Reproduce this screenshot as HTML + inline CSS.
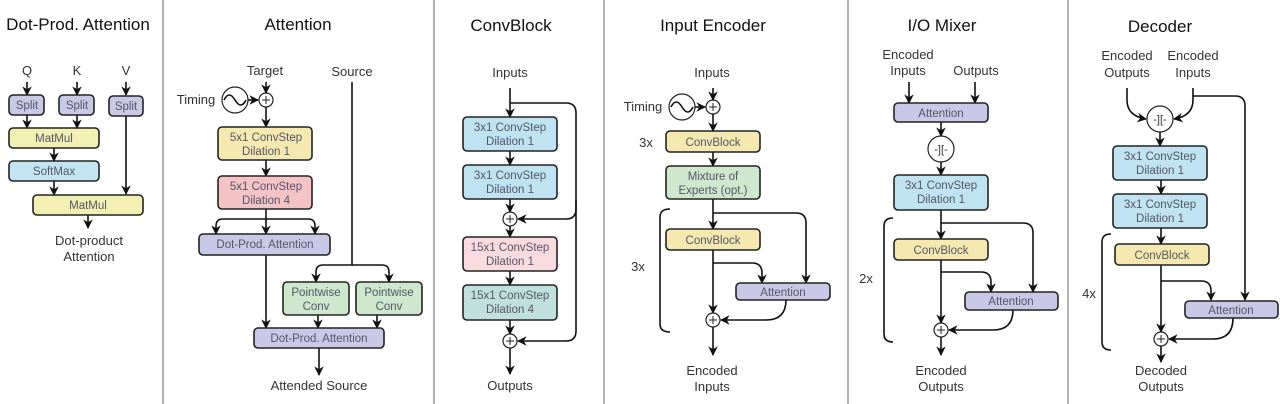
<!DOCTYPE html>
<html><head><meta charset="utf-8"><style>
html,body{margin:0;padding:0;background:#fff;}
svg{display:block;font-family:"Liberation Sans",sans-serif;}
.t{font-size:17px;fill:#111;text-anchor:middle;}
.l{font-size:13px;fill:#333;text-anchor:middle;}
.b{font-size:11.5px;fill:#556;text-anchor:middle;}
.bx{stroke:#222;stroke-width:1.6;}
.ln{stroke:#111;stroke-width:1.6;fill:none;}
.c{stroke:#222;stroke-width:1.2;fill:#fff;}
</style></head><body>
<svg width="1280" height="404" viewBox="0 0 1280 404">
<defs><marker id="a" viewBox="0 0 10 10" refX="9" refY="5" markerWidth="6" markerHeight="6" orient="auto"><path d="M0,0 L10,5 L0,10 L3,5z" fill="#111"/></marker></defs>
<rect width="1280" height="404" fill="#fff"/>
<g stroke="#999" stroke-width="1.5"><line x1="163" y1="0" x2="163" y2="404"/><line x1="434" y1="0" x2="434" y2="404"/><line x1="604" y1="0" x2="604" y2="404"/><line x1="848" y1="0" x2="848" y2="404"/><line x1="1068" y1="0" x2="1068" y2="404"/></g>

<!-- Panel 1 -->
<text class="t" x="78" y="30">Dot-Prod. Attention</text>
<text class="l" x="27" y="75">Q</text><text class="l" x="77" y="75">K</text><text class="l" x="126" y="75">V</text>
<g class="ln" marker-end="url(#a)"><line x1="27" y1="82" x2="27" y2="95"/><line x1="77" y1="82" x2="77" y2="95"/><line x1="126" y1="82" x2="126" y2="95"/>
<line x1="27" y1="115" x2="27" y2="128"/><line x1="77" y1="115" x2="77" y2="128"/><line x1="54" y1="148" x2="54" y2="161"/><line x1="54" y1="181" x2="54" y2="195"/><line x1="126" y1="115" x2="126" y2="194"/><line x1="88" y1="215" x2="88" y2="228"/></g>
<rect class="bx" x="9" y="95" width="35" height="20" rx="4" fill="#c9c8e6"/><text class="b" x="27" y="109">Split</text>
<rect class="bx" x="59" y="95" width="35" height="20" rx="4" fill="#c9c8e6"/><text class="b" x="77" y="109">Split</text>
<rect class="bx" x="109" y="96" width="34" height="20" rx="4" fill="#c9c8e6"/><text class="b" x="126" y="110">Split</text>
<rect class="bx" x="9" y="128" width="90" height="20" rx="4" fill="#f3f0b4"/><text class="b" x="54" y="142">MatMul</text>
<rect class="bx" x="9" y="161" width="90" height="20" rx="4" fill="#c3e4f2"/><text class="b" x="54" y="175">SoftMax</text>
<rect class="bx" x="33" y="195" width="110" height="20" rx="4" fill="#f3f0b4"/><text class="b" x="88" y="209">MatMul</text>
<text class="l" x="89" y="245">Dot-product</text><text class="l" x="89" y="261">Attention</text>

<!-- Panel 2 -->
<text class="t" x="298" y="30">Attention</text>
<text class="l" x="265" y="75">Target</text><text class="l" x="352" y="76">Source</text>
<text class="l" x="196" y="104">Timing</text>
<circle class="c" cx="235" cy="100" r="13" stroke-width="1.5"/><path d="M224,100 q5,-10 11,0 t11,0" class="ln" stroke-width="1.2"/>
<circle class="c" cx="266" cy="100" r="7"/><path d="M262,100h8M266,96v8" stroke="#222"/>
<g class="ln" marker-end="url(#a)"><line x1="248" y1="100" x2="258" y2="100"/><line x1="266" y1="82" x2="266" y2="93"/><line x1="266" y1="107" x2="266" y2="127"/><line x1="266" y1="160" x2="266" y2="176"/>
<line x1="266" y1="209" x2="266" y2="234"/><path d="M266,219 H223 q-7,0 -7,7 V234"/><path d="M266,219 H308 q7,0 7,7 V234"/>
<line x1="266" y1="255" x2="266" y2="328"/><path d="M352,82 V265 H323 q-7,0 -7,7 V282"/><path d="M352,265 H382 q7,0 7,7 V282"/>
<line x1="318" y1="315" x2="318" y2="328"/><line x1="377" y1="315" x2="377" y2="328"/><line x1="319" y1="348" x2="319" y2="375"/></g>
<rect class="bx" x="218" y="127" width="94" height="33" rx="4" fill="#f5e9b0"/><text class="b" x="266" y="141">5x1 ConvStep</text><text class="b" x="266" y="155">Dilation 1</text>
<rect class="bx" x="218" y="176" width="94" height="33" rx="4" fill="#f4c3c6"/><text class="b" x="266" y="190">5x1 ConvStep</text><text class="b" x="266" y="204">Dilation 4</text>
<rect class="bx" x="199" y="234" width="131" height="21" rx="4" fill="#c9c8e6"/><text class="b" x="265" y="248">Dot-Prod. Attention</text>
<rect class="bx" x="283" y="282" width="66" height="33" rx="4" fill="#cde8cc"/><text class="b" x="316" y="296">Pointwise</text><text class="b" x="316" y="310">Conv</text>
<rect class="bx" x="356" y="282" width="66" height="33" rx="4" fill="#cde8cc"/><text class="b" x="389" y="296">Pointwise</text><text class="b" x="389" y="310">Conv</text>
<rect class="bx" x="254" y="328" width="130" height="20" rx="4" fill="#c9c8e6"/><text class="b" x="319" y="342">Dot-Prod. Attention</text>
<text class="l" x="319" y="390">Attended Source</text>

<!-- Panel 3 -->
<text class="t" x="511" y="31">ConvBlock</text>
<text class="l" x="510" y="77">Inputs</text>
<g class="ln" marker-end="url(#a)"><line x1="510" y1="88" x2="510" y2="117"/><line x1="510" y1="151" x2="510" y2="165"/><line x1="510" y1="199" x2="510" y2="212"/>
<line x1="510" y1="226" x2="510" y2="237"/><line x1="510" y1="271" x2="510" y2="285"/><line x1="510" y1="320" x2="510" y2="334"/><line x1="510" y1="348" x2="510" y2="374"/>
<path d="M510,103 H566 q10,0 10,10 V209 q0,10 -10,10 H518"/><path d="M576,200 V331 q0,10 -10,10 H518"/></g>
<circle class="c" cx="510" cy="219" r="7"/><path d="M506,219h8M510,215v8" stroke="#222"/>
<circle class="c" cx="510" cy="341" r="7"/><path d="M506,341h8M510,337v8" stroke="#222"/>
<rect class="bx" x="463" y="117" width="94" height="34" rx="4" fill="#bfe3f2"/><text class="b" x="510" y="131">3x1 ConvStep</text><text class="b" x="510" y="145">Dilation 1</text>
<rect class="bx" x="463" y="165" width="94" height="34" rx="4" fill="#bfe3f2"/><text class="b" x="510" y="179">3x1 ConvStep</text><text class="b" x="510" y="193">Dilation 1</text>
<rect class="bx" x="463" y="237" width="94" height="34" rx="4" fill="#fadbdf"/><text class="b" x="510" y="251">15x1 ConvStep</text><text class="b" x="510" y="265">Dilation 1</text>
<rect class="bx" x="463" y="285" width="94" height="35" rx="4" fill="#bfe0dc"/><text class="b" x="510" y="299">15x1 ConvStep</text><text class="b" x="510" y="313">Dilation 4</text>
<text class="l" x="510" y="390">Outputs</text>

<!-- Panel 4 -->
<text class="t" x="713" y="31">Input Encoder</text>
<text class="l" x="712" y="77">Inputs</text>
<text class="l" x="643" y="111">Timing</text>
<circle class="c" cx="682" cy="107" r="13" stroke-width="1.5"/><path d="M671,107 q5,-10 11,0 t11,0" class="ln" stroke-width="1.2"/>
<circle class="c" cx="713" cy="107" r="7"/><path d="M709,107h8M713,103v8" stroke="#222"/>
<text class="l" x="646" y="147">3x</text><text class="l" x="638" y="271">3x</text>
<path d="M670,209 q-10,0 -10,8 V324 q0,8 10,8" class="ln"/>
<g class="ln" marker-end="url(#a)"><line x1="695" y1="107" x2="705" y2="107"/><line x1="713" y1="88" x2="713" y2="100"/><line x1="713" y1="114" x2="713" y2="131"/><line x1="713" y1="152" x2="713" y2="166"/>
<line x1="713" y1="199" x2="713" y2="229"/><path d="M713,213 H796 q10,0 10,10 V283"/><line x1="713" y1="250" x2="713" y2="313"/><path d="M713,263 H752 q10,0 10,10 V283"/>
<path d="M786,300 q0,20 -20,20 H721"/><line x1="713" y1="327" x2="713" y2="355"/></g>
<circle class="c" cx="713" cy="320" r="7"/><path d="M709,320h8M713,316v8" stroke="#222"/>
<rect class="bx" x="666" y="131" width="94" height="21" rx="4" fill="#f5e9b0"/><text class="b" x="713" y="146">ConvBlock</text>
<rect class="bx" x="666" y="166" width="94" height="33" rx="4" fill="#cde8cc"/><text class="b" x="713" y="180">Mixture of</text><text class="b" x="713" y="194">Experts (opt.)</text>
<rect class="bx" x="666" y="229" width="94" height="21" rx="4" fill="#f5e9b0"/><text class="b" x="713" y="244">ConvBlock</text>
<rect class="bx" x="736" y="283" width="94" height="17" rx="4" fill="#c9c8e6"/><text class="b" x="783" y="296">Attention</text>
<text class="l" x="712" y="375">Encoded</text><text class="l" x="712" y="391">Inputs</text>

<!-- Panel 5 -->
<text class="t" x="942" y="31">I/O Mixer</text>
<text class="l" x="908" y="59">Encoded</text><text class="l" x="908" y="75">Inputs</text><text class="l" x="976" y="75">Outputs</text>
<g class="ln" marker-end="url(#a)"><line x1="909" y1="82" x2="909" y2="103"/><line x1="975" y1="82" x2="975" y2="103"/><line x1="941" y1="122" x2="941" y2="136"/>
<line x1="941" y1="162" x2="941" y2="175"/><line x1="941" y1="210" x2="941" y2="239"/><path d="M941,223 H1023 q10,0 10,10 V292"/>
<line x1="941" y1="260" x2="941" y2="323"/><path d="M941,272 H981 q10,0 10,10 V292"/><path d="M1013,310 q0,20 -20,20 H949"/><line x1="941" y1="337" x2="941" y2="355"/></g>
<circle class="c" cx="941" cy="149" r="13"/><text x="941" y="153" font-size="11" fill="#333" text-anchor="middle">-][-</text>
<circle class="c" cx="941" cy="330" r="7"/><path d="M937,330h8M941,326v8" stroke="#222"/>
<path d="M893,218 q-9,0 -9,8 V334 q0,8 9,8" class="ln"/>
<text class="l" x="866" y="283">2x</text>
<rect class="bx" x="894" y="103" width="94" height="19" rx="4" fill="#c9c8e6"/><text class="b" x="941" y="117">Attention</text>
<rect class="bx" x="894" y="175" width="94" height="35" rx="4" fill="#bfe3f2"/><text class="b" x="941" y="189">3x1 ConvStep</text><text class="b" x="941" y="203">Dilation 1</text>
<rect class="bx" x="894" y="239" width="94" height="21" rx="4" fill="#f5e9b0"/><text class="b" x="941" y="254">ConvBlock</text>
<rect class="bx" x="965" y="292" width="93" height="18" rx="4" fill="#c9c8e6"/><text class="b" x="1011" y="305">Attention</text>
<text class="l" x="941" y="375">Encoded</text><text class="l" x="941" y="391">Outputs</text>

<!-- Panel 6 -->
<text class="t" x="1160" y="32">Decoder</text>
<text class="l" x="1127" y="60">Encoded</text><text class="l" x="1127" y="77">Outputs</text>
<text class="l" x="1193" y="60">Encoded</text><text class="l" x="1193" y="77">Inputs</text>
<g class="ln" marker-end="url(#a)"><path d="M1127,88 V100 q0,16 19,19"/><path d="M1193,88 V100 q0,16 -19,19"/>
<path d="M1193,96 H1235 q10,0 10,10 V300"/><line x1="1160" y1="132" x2="1160" y2="146"/><line x1="1161" y1="180" x2="1161" y2="194"/>
<line x1="1161" y1="228" x2="1161" y2="244"/><line x1="1161" y1="265" x2="1161" y2="332"/><path d="M1161,281 H1201 q10,0 10,10 V300"/>
<path d="M1233,318 q0,21 -20,21 H1169"/><line x1="1161" y1="346" x2="1161" y2="362"/></g>
<circle class="c" cx="1160" cy="119" r="13"/><text x="1160" y="123" font-size="11" fill="#333" text-anchor="middle">-][-</text>
<circle class="c" cx="1161" cy="339" r="7"/><path d="M1157,339h8M1161,335v8" stroke="#222"/>
<path d="M1111,234 q-9,0 -9,8 V342 q0,8 9,8" class="ln"/>
<text class="l" x="1089" y="298">4x</text>
<rect class="bx" x="1113" y="146" width="94" height="34" rx="4" fill="#bfe3f2"/><text class="b" x="1160" y="160">3x1 ConvStep</text><text class="b" x="1160" y="174">Dilation 1</text>
<rect class="bx" x="1113" y="194" width="94" height="34" rx="4" fill="#bfe3f2"/><text class="b" x="1160" y="208">3x1 ConvStep</text><text class="b" x="1160" y="222">Dilation 1</text>
<rect class="bx" x="1115" y="244" width="94" height="21" rx="4" fill="#f5e9b0"/><text class="b" x="1162" y="259">ConvBlock</text>
<rect class="bx" x="1185" y="301" width="93" height="17" rx="4" fill="#c9c8e6"/><text class="b" x="1231" y="314">Attention</text>
<text class="l" x="1161" y="375">Decoded</text><text class="l" x="1161" y="391">Outputs</text>
</svg>
</body></html>
